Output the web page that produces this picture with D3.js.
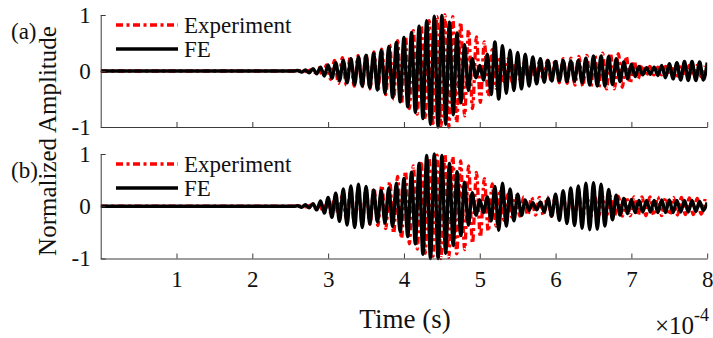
<!DOCTYPE html>
<html>
<head>
<meta charset="utf-8">
<script src="https://cdn.jsdelivr.net/npm/d3@7"></script>
<style>
  html, body { margin: 0; padding: 0; background: #fff; }
  svg { display: block; }
  svg text { font-family: "Liberation Serif", "Times New Roman", serif; }
</style>
</head>
<body>
<svg id="chart" width="713" height="338"></svg>
<script>
// Time axis in units of 1e-4 s
const xTicks = [1, 2, 3, 4, 5, 6, 7, 8];
const yTicks = [-1, 0, 1];
const seriesNames = ["Experiment", "FE"];
const panelLabels = ["(a)", "(b)"];

// Each trace: quiet until its onset, then successive signed peak values
// spaced by a fixed half-period (both times in 1e-4 s).
const onsetA_exp = 2.72, halfPeriodA_exp = 0.052;
const peaksA_exp = [
  -0.01, 0.02, -0.03, 0.05, -0.08, 0.11, -0.15, 0.19, -0.22, 0.24,
  -0.25, 0.26, -0.27, 0.28, -0.29, 0.30, -0.32, 0.34, -0.36, 0.39,
  -0.42, 0.46, -0.50, 0.54, -0.58, 0.62, -0.67, 0.72, -0.77, 0.82,
  -0.86, 0.90, -0.94, 0.97, -0.99, 1.00, -1.00, 0.97, -0.92, 0.87,
  -0.80, 0.74, -0.67, 0.61, -0.56, 0.52, -0.45, 0.38, -0.31, 0.26,
  -0.23, 0.21, -0.19, 0.17, -0.15, 0.14, -0.14, 0.15, -0.16, 0.17,
  -0.18, 0.19, -0.20, 0.21, -0.21, 0.22, -0.22, 0.23, -0.25, 0.26,
  -0.27, 0.28, -0.29, 0.30, -0.31, 0.32, -0.32, 0.32, -0.32, 0.31,
  -0.29, 0.26, -0.22, 0.18, -0.14, 0.11, -0.09, 0.08, -0.07, 0.07,
  -0.07, 0.08, -0.08, 0.09, -0.09, 0.10, -0.10, 0.10, -0.10, 0.10,
  -0.10, 0.09
];

const onsetA_fe = 2.60, halfPeriodA_fe = 0.05;
const peaksA_fe = [
  0.01, -0.02, 0.02, -0.03, 0.04, -0.05, 0.07, -0.09, 0.11, -0.13,
  0.15, -0.17, 0.19, -0.21, 0.22, -0.24, 0.25, -0.27, 0.28, -0.30,
  0.32, -0.34, 0.37, -0.40, 0.44, -0.47, 0.51, -0.55, 0.60, -0.64,
  0.69, -0.74, 0.80, -0.85, 0.90, -0.95, 0.98, -1.00, 0.99, -0.95,
  0.87, -0.78, 0.68, -0.57, 0.47, -0.35, 0.22, -0.12, 0.10, -0.16,
  0.30, -0.42, 0.52, -0.50, 0.45, -0.40, 0.37, -0.35, 0.33, -0.32,
  0.30, -0.27, 0.25, -0.23, 0.22, -0.20, 0.19, -0.18, 0.17, -0.18,
  0.19, -0.19, 0.18, -0.18, 0.19, -0.21, 0.23, -0.25, 0.27, -0.27,
  0.27, -0.27, 0.26, -0.24, 0.22, -0.19, 0.16, -0.14, 0.12, -0.10,
  0.08, -0.07, 0.06, -0.06, 0.07, -0.08, 0.10, -0.12, 0.13, -0.14,
  0.15, -0.16, 0.17, -0.17, 0.17, -0.17, 0.16, -0.16, 0.15
];

const onsetB_exp = 2.72, halfPeriodB_exp = 0.052;
const peaksB_exp = [
  -0.01, 0.02, -0.03, 0.05, -0.07, 0.09, -0.12, 0.15, -0.18, 0.21,
  -0.24, 0.27, -0.30, 0.32, -0.33, 0.34, -0.34, 0.35, -0.37, 0.40,
  -0.43, 0.47, -0.52, 0.57, -0.62, 0.67, -0.72, 0.77, -0.82, 0.86,
  -0.90, 0.93, -0.96, 0.98, -1.00, 1.00, -0.98, 0.95, -0.91, 0.87,
  -0.83, 0.77, -0.71, 0.65, -0.59, 0.53, -0.48, 0.43, -0.38, 0.32,
  -0.27, 0.23, -0.21, 0.20, -0.19, 0.18, -0.17, 0.17, -0.17, 0.17,
  -0.18, 0.18, -0.19, 0.19, -0.20, 0.20, -0.20, 0.20, -0.20, 0.20,
  -0.20, 0.20, -0.20, 0.20, -0.19, 0.19, -0.19, 0.19, -0.19, 0.19,
  -0.19, 0.18, -0.18, 0.18, -0.18, 0.18, -0.18, 0.18, -0.18, 0.18,
  -0.18, 0.17, -0.17, 0.17, -0.17, 0.17, -0.16, 0.16, -0.16, 0.15,
  -0.15, 0.14
];

const onsetB_fe = 2.60, halfPeriodB_fe = 0.05;
const peaksB_fe = [
  0.01, -0.02, 0.03, -0.03, 0.05, -0.07, 0.10, -0.13, 0.17, -0.21,
  0.25, -0.29, 0.33, -0.36, 0.39, -0.41, 0.42, -0.41, 0.38, -0.34,
  0.31, -0.30, 0.30, -0.32, 0.35, -0.39, 0.44, -0.49, 0.53, -0.58,
  0.65, -0.72, 0.82, -0.92, 0.97, -1.00, 1.00, -1.00, 0.97, -0.90,
  0.82, -0.75, 0.66, -0.56, 0.46, -0.36, 0.26, -0.17, 0.12, -0.12,
  0.18, -0.28, 0.38, -0.46, 0.44, -0.38, 0.33, -0.28, 0.23, -0.18,
  0.12, -0.08, 0.07, -0.07, 0.08, -0.11, 0.15, -0.19, 0.23, -0.27,
  0.30, -0.33, 0.35, -0.37, 0.39, -0.42, 0.44, -0.45, 0.45, -0.44,
  0.42, -0.38, 0.32, -0.26, 0.21, -0.17, 0.15, -0.14, 0.13, -0.12,
  0.11, -0.11, 0.11, -0.11, 0.11, -0.12, 0.12, -0.12, 0.12, -0.12,
  0.11, -0.11, 0.11, -0.11, 0.11, -0.10, 0.09, -0.08, 0.07
];

const panels = [
  { label: panelLabels[0], exp: [onsetA_exp, halfPeriodA_exp, peaksA_exp], fe: [onsetA_fe, halfPeriodA_fe, peaksA_fe] },
  { label: panelLabels[1], exp: [onsetB_exp, halfPeriodB_exp, peaksB_exp], fe: [onsetB_fe, halfPeriodB_fe, peaksB_fe] }
];

// Turn a trace description into [time, value] points
function tracePoints([onset, half, peaks]) {
  const pts = [[0, 0], [onset - half, 0]];
  peaks.forEach((v, i) => pts.push([onset + i * half, v]));
  return pts;
}

const serif = "'Liberation Serif', 'Times New Roman', serif";
const svg = d3.select("#chart");
const axisColor = "#3a3a3a";
const expStyle = { color: "#ff0000", width: 3.3, dash: "7,3.5,3,3.5" };
const feStyle = { color: "#000000", width: 3.4 };
const x = d3.scaleLinear().domain([0, 8]).range([100.7, 707.2]);
const panelRanges = [[127, 15], [258.5, 154]];

function txt(sel, size) {
  return sel.style("font-family", serif).style("font-size", size + "px").attr("fill", "#111");
}

panels.forEach((p, k) => {
  const y = d3.scaleLinear().domain([-1, 1]).range(panelRanges[k]);
  const g = svg.append("g");

  const clipId = "clip" + k;
  svg.append("clipPath").attr("id", clipId)
    .append("rect")
    .attr("x", x(0)).attr("y", y(1) - 6)
    .attr("width", x(8) - x(0)).attr("height", y(-1) - y(1) + 12);

  const line = d3.line()
    .x(d => x(d[0]))
    .y(d => y(d[1]))
    .curve(d3.curveMonotoneX);

  const plot = g.append("g").attr("clip-path", `url(#${clipId})`);
  plot.append("path")
    .attr("d", line(tracePoints(p.exp)))
    .attr("fill", "none")
    .attr("stroke", expStyle.color)
    .attr("stroke-width", expStyle.width)
    .attr("stroke-dasharray", expStyle.dash);
  plot.append("path")
    .attr("d", line(tracePoints(p.fe)))
    .attr("fill", "none")
    .attr("stroke", feStyle.color)
    .attr("stroke-width", feStyle.width)
    .attr("stroke-linejoin", "round");

  // Axes with inward ticks
  const xAxis = d3.axisBottom(x).tickValues(xTicks)
    .tickSizeInner(-5).tickSizeOuter(0).tickPadding(12)
    .tickFormat(k === 1 ? (d => String(d)) : () => "");
  const gx = g.append("g").attr("transform", `translate(0,${y(-1)})`).call(xAxis);

  const yAxis = d3.axisLeft(y).tickValues(yTicks)
    .tickSizeInner(-5).tickSizeOuter(0).tickPadding(10)
    .tickFormat(d => String(d));
  const gy = g.append("g").attr("transform", `translate(${x(0)},0)`).call(yAxis);

  [gx, gy].forEach(a => {
    a.attr("color", axisColor).attr("font-family", null);
    txt(a.selectAll("text"), 23);
    a.selectAll("line, path").attr("stroke-width", 1);
  });

  // Panel tag
  txt(g.append("text").text(p.label).attr("x", 11).attr("y", y(1) + 24), 23);

  // Legend
  const legY = [y(1) + 10, y(1) + 34];
  g.append("line")
    .attr("x1", 116).attr("x2", 178).attr("y1", legY[0]).attr("y2", legY[0])
    .attr("stroke", expStyle.color).attr("stroke-width", expStyle.width)
    .attr("stroke-dasharray", expStyle.dash);
  g.append("line")
    .attr("x1", 116).attr("x2", 178).attr("y1", legY[1]).attr("y2", legY[1])
    .attr("stroke", feStyle.color).attr("stroke-width", feStyle.width);
  seriesNames.forEach((name, i) => {
    txt(g.append("text").text(name)
      .attr("x", 184).attr("y", legY[i]).attr("dy", "0.33em"), 23);
  });
});

// Axis titles
txt(svg.append("text").text("Time (s)")
  .attr("x", 405).attr("y", 328).attr("text-anchor", "middle"), 27);

txt(svg.append("text").text("Normalized Amplitude")
  .attr("transform", "translate(56,141) rotate(-90)")
  .attr("text-anchor", "middle"), 25);

// Exponent marker for the time axis
const expo = txt(svg.append("text").attr("x", 655).attr("y", 334), 25);
expo.append("tspan").text("×10");
expo.append("tspan").text("-4").attr("dy", -13).style("font-size", "18px");
</script>
</body>
</html>
